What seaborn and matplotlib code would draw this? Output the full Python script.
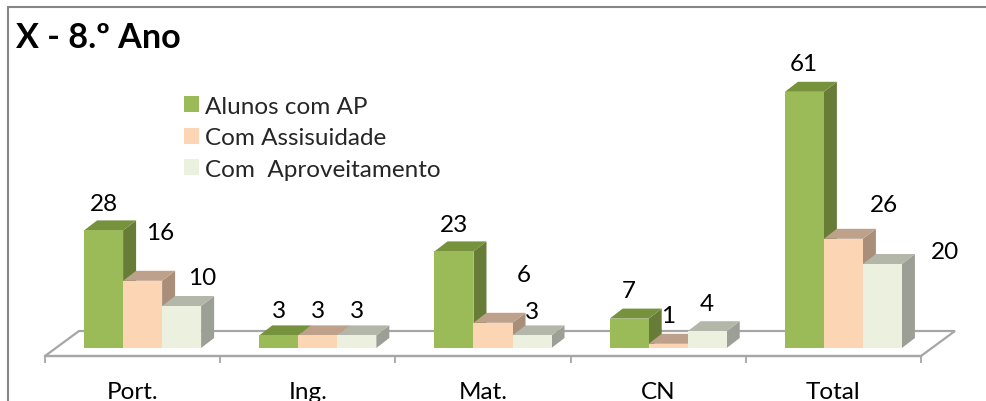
import pandas as pd
import matplotlib.pyplot as plt
from matplotlib.lines import Line2D
import seaborn as sns

# dados
disciplinas = ['Port.', 'Ing.', 'Mat.', 'CN', 'Total']
series = ['Alunos com AP', 'Com Assisuidade', 'Com  Aproveitamento']
alunos_ap = [28, 3, 23, 7, 61]
assiduidade = [16, 3, 6, 1, 26]
aproveitamento = [10, 3, 3, 4, 20]

cores = ['#9BBB59', '#FCD5B5', '#EBF1DE']
cores_lado = ['#677D37', '#A98F79', '#9C9F95']
cores_topo = ['#76923C', '#BDA18A', '#B3B7A9']

# deslocamento dos rotulos em pixels (x, y) acima do topo de cada barra
rotulos_dx = [[0, 0, 0, 0, -1], [18, 0, 31, 0, 41], [21, 0, 0, 0, 63]]
rotulos_dy = [[27, 25, 27, 28, 28], [48, 25, 48, 28, 34], [28, 25, 24, 28, 12]]

LARG, ALT = 986, 402
PX_UNID = 4.2      # pixels por aluno
PX_CAT = 175.2     # pixels por categoria
PROF_X, PROF_Y = 13, 10   # profundidade do efeito 3D
FONTE = 17.5

sns.set_theme(style='white')
plt.rcParams['font.family'] = ['Lato', 'DejaVu Sans']

df = pd.DataFrame({
    'disciplina': disciplinas * 3,
    'serie': [s for s in series for _ in disciplinas],
    'valor': alunos_ap + assiduidade + aproveitamento,
})

fig = plt.figure(figsize=(LARG / 100, ALT / 100), dpi=100)
ax = fig.add_axes([45 / LARG, 1 - 357 / ALT, 876 / LARG, 337 / ALT])

sns.barplot(data=df, x='disciplina', y='valor', hue='serie', hue_order=series,
            palette=cores, saturation=1, width=0.668, gap=0, linewidth=0, ax=ax)

desl = 10 / PX_CAT
ax.set_xlim(-0.5 - desl, 4.5 - desl)
ax.set_ylim(-8 / PX_UNID, (349 - 20) / PX_UNID)
ax.set_xlabel('')
ax.set_ylabel('')
ax.set_yticks([])
ax.set_xticks([i - desl for i in range(5)], disciplinas, fontsize=FONTE, color='black')
ax.set_xticks([i - 0.5 - desl for i in range(6)], minor=True)
ax.tick_params(axis='x', which='major', length=0, pad=18)
ax.tick_params(axis='x', which='minor', length=5, width=1.3, color='#A6A6A6', bottom=True)
for lado in ['top', 'left', 'right']:
    ax.spines[lado].set_visible(False)
ax.spines['bottom'].set_color('#A6A6A6')
ax.spines['bottom'].set_linewidth(1.6)

dx = PROF_X / PX_CAT
dy = PROF_Y / PX_UNID

# piso do grafico
x0, x1 = ax.get_xlim()
y0 = ax.get_ylim()[0]
px, py = 34 / PX_CAT, 25 / PX_UNID
ax.fill([x0, x1, x1 + px, x0 + px], [y0, y0, y0 + py, y0 + py], facecolor='white',
        edgecolor='#A6A6A6', linewidth=1.6, clip_on=False, zorder=1)

# faces laterais e de topo a partir das barras do seaborn
for s, cont in enumerate(ax.containers):
    for c, barra in enumerate(cont):
        xa = barra.get_x()
        xb = xa + barra.get_width()
        h = barra.get_height()
        barra.set_zorder(2.5 + s)
        ax.fill([xb, xb + dx, xb + dx, xb], [0, dy, h + dy, h],
                color=cores_lado[s], linewidth=0, zorder=2 + s, clip_on=False)
        ax.fill([xa, xb, xb + dx, xa + dx], [h, h, h + dy, h + dy],
                color=cores_topo[s], linewidth=0, zorder=2.2 + s, clip_on=False)
        ax.annotate(str(int(h)), (xa + barra.get_width() / 2, h),
                    xytext=(rotulos_dx[s][c], rotulos_dy[s][c]),
                    textcoords='offset pixels', ha='center', va='center',
                    fontsize=FONTE, color='black', zorder=10, annotation_clip=False)

sns.move_legend(ax, 'upper left', bbox_to_anchor=(179 / LARG, 1 - 92 / ALT),
                bbox_transform=fig.transFigure, title=None, frameon=False,
                fontsize=FONTE, handlelength=0.62, handleheight=0.62,
                handletextpad=0.25, labelspacing=0.43, borderaxespad=0, borderpad=0.2)

fig.text(16 / LARG, 1 - 38 / ALT, 'X - 8.º Ano', fontsize=24.6, fontweight='bold',
         color='black', ha='left', va='center')

# moldura
fig.add_artist(Line2D([8 / LARG, 8 / LARG], [0, 1 - 8 / ALT], color='#868686', linewidth=1.5))
fig.add_artist(Line2D([8 / LARG, 1], [1 - 8 / ALT, 1 - 8 / ALT], color='#868686', linewidth=1.5))

fig.savefig('out.png', dpi=100)
